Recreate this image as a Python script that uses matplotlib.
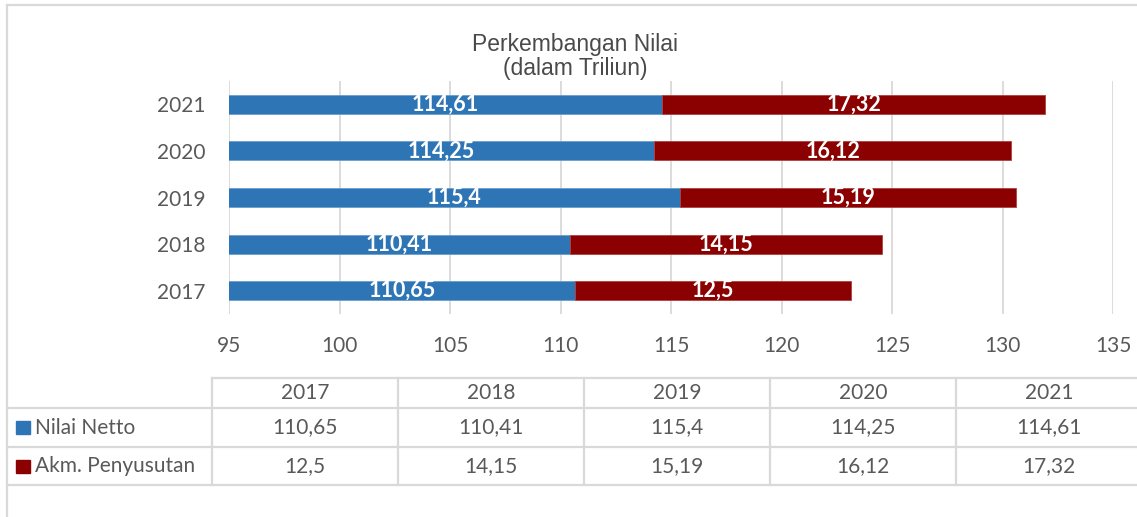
import matplotlib
matplotlib.use("Agg")
import matplotlib.pyplot as plt
from matplotlib.patches import Rectangle

years = ["2017", "2018", "2019", "2020", "2021"]
nilai_netto = [110.65, 110.41, 115.4, 114.25, 114.61]
akm_penyusutan = [12.5, 14.15, 15.19, 16.12, 17.32]
netto_labels = ["110,65", "110,41", "115,4", "114,25", "114,61"]
akm_labels = ["12,5", "14,15", "15,19", "16,12", "17,32"]
series_names = ["Nilai Netto", "Akm. Penyusutan"]
x_ticks = [95, 100, 105, 110, 115, 120, 125, 130, 135]

BLUE = "#2E75B6"
RED = "#8B0000"
GRID = "#D9D9D9"
TXT = "#595959"
FONT = ["Lato", "DejaVu Sans"]
FS = 15

W, H = 1137, 517
fig = plt.figure(figsize=(W / 100, H / 100), dpi=100)

ov = fig.add_axes([0, 0, 1, 1])
ov.set_xlim(0, W)
ov.set_ylim(H, 0)
ov.axis("off")

lw = 1.6
ov.plot([7, 7], [5, H], color=GRID, lw=lw)
ov.plot([7, W], [5, 5], color=GRID, lw=lw)

ax = fig.add_axes([229 / W, 1 - 314 / H, 884 / W, 233 / H])
y = list(range(len(years)))
ax.barh(y, nilai_netto, height=0.41, color=BLUE, edgecolor="#6A9FD0", linewidth=0.6, zorder=3)
ax.barh(y, akm_penyusutan, left=nilai_netto, height=0.41, color=RED, edgecolor="#B04040",
        linewidth=0.6, zorder=3)
ax.set_xlim(x_ticks[0], x_ticks[-1])
ax.set_ylim(-0.5, len(years) - 0.5)
ax.set_xticks(x_ticks)
ax.set_xticklabels([str(t) for t in x_ticks], fontsize=FS, color=TXT, family=FONT)
ax.set_yticks(y)
ax.set_yticklabels(years, fontsize=FS, color=TXT, family=FONT)
ax.tick_params(axis="both", length=0)
ax.tick_params(axis="x", pad=16)
ax.tick_params(axis="y", pad=17)
ax.grid(axis="x", color=GRID, lw=1.3, zorder=0)
for s in ax.spines.values():
    s.set_visible(False)

x0 = ax.get_xlim()[0]
for i in y:
    ax.text((max(x0, 0) + nilai_netto[i]) / 2, i, netto_labels[i], ha="center", va="center",
            color="white", fontsize=15.5, fontweight="bold", family=FONT, zorder=4)
    ax.text(nilai_netto[i] + akm_penyusutan[i] / 2, i, akm_labels[i], ha="center", va="center",
            color="white", fontsize=15.5, fontweight="bold", family=FONT, zorder=4)

fig.text(575 / W, 1 - 45 / H, "Perkembangan Nilai", ha="center", va="center", fontsize=16.5,
         color="#4A4A4A", family=["Liberation Sans", "DejaVu Sans"])
fig.text(575 / W, 1 - 68 / H, "(dalam Triliun)", ha="center", va="center", fontsize=16.5,
         color="#4A4A4A", family=["Liberation Sans", "DejaVu Sans"])

col_edges = [212, 398, 584, 770, 956, 1142]
row_edges = [378, 408, 447, 485]
ov.plot([212, W], [row_edges[0]] * 2, color=GRID, lw=lw)
for ry in row_edges[1:]:
    ov.plot([7, W], [ry] * 2, color=GRID, lw=lw)
for cx in col_edges[:-1]:
    ov.plot([cx, cx], [row_edges[0], row_edges[-1]], color=GRID, lw=lw)

for j, yr in enumerate(years):
    cx = (col_edges[j] + col_edges[j + 1]) / 2
    ov.text(cx, (row_edges[0] + row_edges[1]) / 2, yr, ha="center", va="center",
            fontsize=FS, color=TXT, family=FONT)
    ov.text(cx, (row_edges[1] + row_edges[2]) / 2, netto_labels[j], ha="center", va="center",
            fontsize=FS, color=TXT, family=FONT)
    ov.text(cx, (row_edges[2] + row_edges[3]) / 2, akm_labels[j], ha="center", va="center",
            fontsize=FS, color=TXT, family=FONT)

for k, (name, col) in enumerate(zip(series_names, [BLUE, RED])):
    cy = (row_edges[k + 1] + row_edges[k + 2]) / 2
    ov.add_patch(Rectangle((16, cy - 6.5), 14, 13, color=col))
    ov.text(35, cy, name, ha="left", va="center", fontsize=FS, color=TXT, family=FONT)

fig.savefig("out.png", dpi=100)
